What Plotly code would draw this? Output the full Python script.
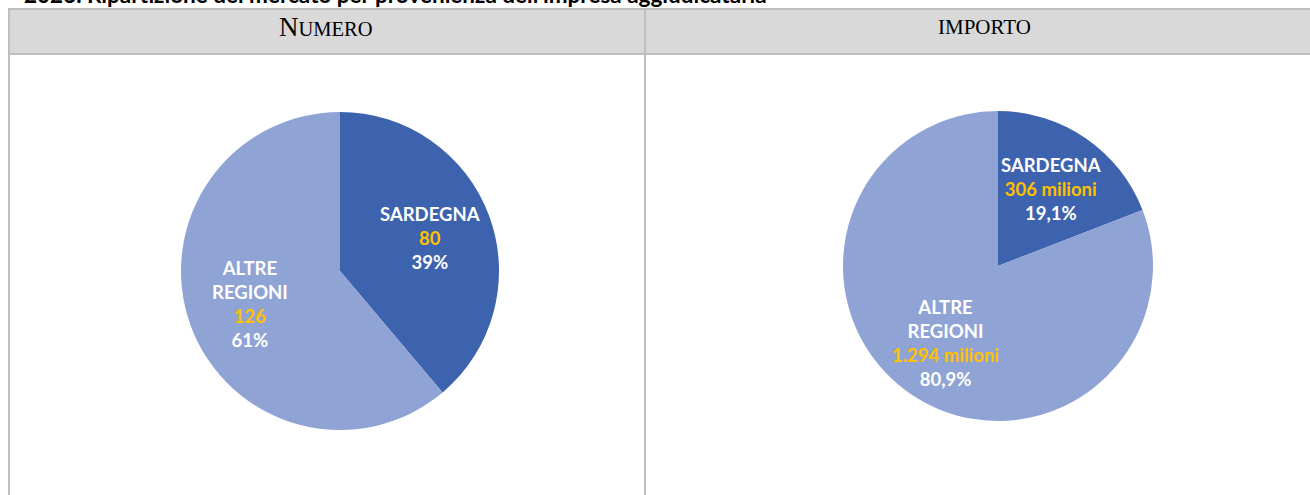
import math
import plotly.graph_objects as go

# ---- data ----
categories = ["SARDEGNA", "ALTRE<br>REGIONI"]
numero_values = [80, 126]
importo_values = [306, 1294]
numero_text = ["80", "126"]
importo_text = ["306 milioni", "1.294 milioni"]
numero_pct = ["39%", "61%"]
importo_pct = ["19,1%", "80,9%"]
panel_titles = ["N<span style='font-size:20.5px'>UMERO</span>", "IMPORTO"]
chart_title = "2023. Ripartizione del mercato per provenienza dell'impresa aggiudicataria"

colors = ["#3D63AE", "#8FA3D5"]
W, H = 1310, 495


def px(x):
    return x / W


def py(y):
    return 1 - y / H


fig = go.Figure()

# pie geometry (pixels in figure)
pies = [
    dict(values=numero_values, vals=numero_text, pcts=numero_pct, cx=340, cy=271, r=159),
    dict(values=importo_values, vals=importo_text, pcts=importo_pct, cx=998, cy=266, r=155),
]

annotations = []
for p in pies:
    fig.add_trace(go.Pie(
        labels=[c.replace("<br>", " ") for c in categories], values=p["values"], sort=False,
        direction="clockwise", rotation=0,
        marker=dict(colors=colors, line=dict(width=0)),
        textinfo="none", hoverinfo="label+value+percent",
        domain=dict(x=[px(p["cx"] - p["r"]), px(p["cx"] + p["r"])],
                    y=[py(p["cy"] + p["r"]), py(p["cy"] - p["r"])]),
        showlegend=False,
    ))
    total = sum(p["values"])
    start = 0.0
    for i, v in enumerate(p["values"]):
        frac = v / total
        mid = (start + frac / 2) * 2 * math.pi
        start += frac
        d = 0.6 * p["r"]
        x = p["cx"] + d * math.sin(mid)
        y = p["cy"] - d * math.cos(mid)
        txt = (f"<b>{categories[i]}<br><span style='color:#FFC000'>{p['vals'][i]}</span>"
               f"<br>{p['pcts'][i]}</b>")
        annotations.append(dict(
            text=txt, xref="paper", yref="paper", x=px(x), y=py(y),
            xanchor="center", yanchor="middle", showarrow=False, align="center",
            font=dict(family="Lato", size=18.5, color="white"),
        ))

grid = "#BFBFBF"
shapes = [
    dict(type="rect", xref="paper", yref="paper", x0=px(9), x1=px(1320), y0=py(54), y1=py(9),
         fillcolor="#D9D9D9", line=dict(color=grid, width=2), layer="below"),
    dict(type="line", xref="paper", yref="paper", x0=px(9), x1=px(9), y0=py(9), y1=py(500),
         line=dict(color=grid, width=2)),
    dict(type="line", xref="paper", yref="paper", x0=px(645), x1=px(645), y0=py(9), y1=py(500),
         line=dict(color=grid, width=2)),
]

annotations += [
    dict(text=f"<b>{chart_title}</b>", xref="paper", yref="paper", x=px(22), y=1 + 5 / H,
         xanchor="left", yanchor="middle", showarrow=False,
         font=dict(family="Lato", size=22.5, color="black")),
    dict(text=panel_titles[0], xref="paper", yref="paper", x=px(326), y=py(27),
         xanchor="center", yanchor="middle", showarrow=False,
         font=dict(family="Liberation Serif", size=27, color="black")),
    dict(text=panel_titles[1], xref="paper", yref="paper", x=px(984), y=py(27),
         xanchor="center", yanchor="middle", showarrow=False,
         font=dict(family="Liberation Serif", size=21, color="black")),
]

fig.update_layout(
    width=W, height=H, margin=dict(l=0, r=0, t=0, b=0),
    paper_bgcolor="white", plot_bgcolor="white",
    shapes=shapes, annotations=annotations,
)

fig.write_html("out.html", config={"displayModeBar": False},
               post_script="document.body.style.margin='0';")
